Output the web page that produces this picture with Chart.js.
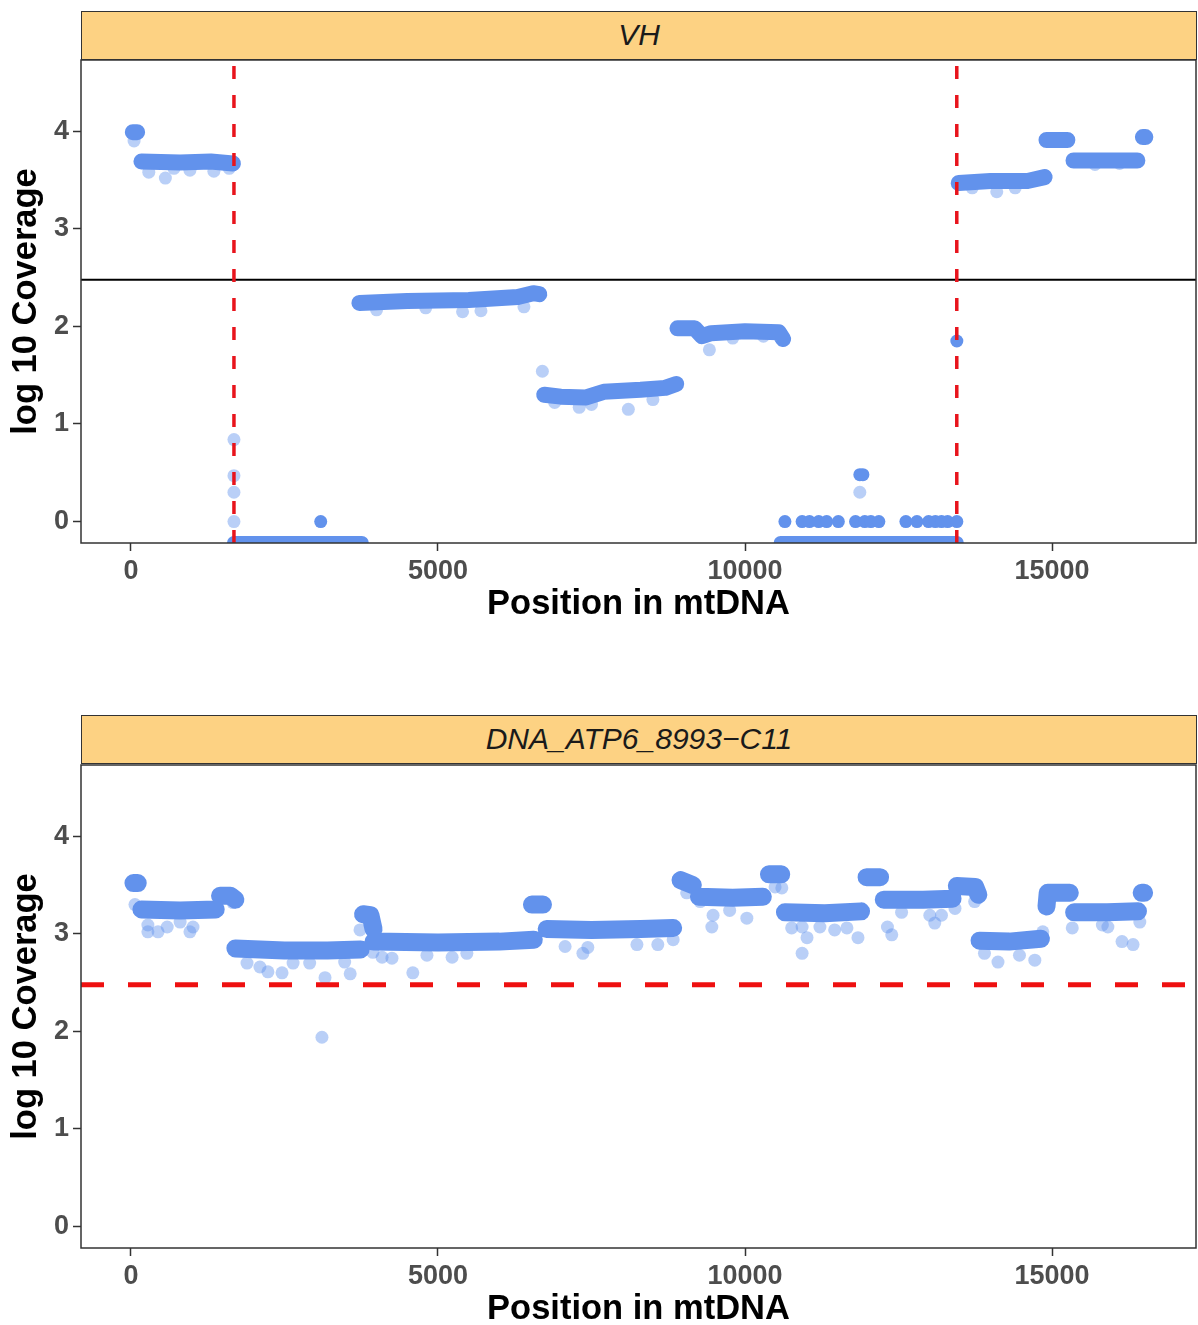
<!DOCTYPE html>
<html lang="en">
<head>
    <meta charset="UTF-8">
    <title>mtDNA coverage</title>
    <script src="https://cdn.jsdelivr.net/npm/chart.js"></script>
    <style>
        body {
            margin: 0;
            width: 1198px;
            height: 1325px;
            overflow: hidden;
            background: #ffffff;
            font-family: "Liberation Sans", Arial, sans-serif;
            position: relative;
        }
        .strip {
            position: absolute;
            left: 81px;
            width: 1116px;
            height: 49px;
            box-sizing: border-box;
            border: 1.5px solid #333333;
            background: #FDD283;
            color: #1A1A1A;
            font-style: italic;
            font-size: 30px;
            line-height: 46px;
            text-align: center;
        }
        canvas {
            position: absolute;
            left: 0;
        }
    </style>
</head>
<body>
    <div class="strip" style="top: 11px;">VH</div>
    <canvas id="vhChart" width="1198" height="571" style="top: 59px;"></canvas>

    <div class="strip" style="top: 715px;">DNA_ATP6_8993−C11</div>
    <canvas id="c11Chart" width="1198" height="571" style="top: 764px;"></canvas>

    <script>
        // axes
        const POSITION_TICKS = [0, 5000, 10000, 15000];
        const COVERAGE_TICKS = [0, 1, 2, 3, 4];
        const POSITION_MIN = -814, POSITION_MAX = 17345;
        const COVERAGE_MIN = -0.22, COVERAGE_MAX = 4.73;
        const COVERAGE_THRESHOLD = 2.477; // log10(300)

        // VH: dense runs of points (null = break between runs)
        const vhBandPos = [30, 100, null, 170, 800, 1300, 1660, null,
            3720, 4500, 5500, 6300, 6550, 6650, null,
            6730, 7000, 7400, 7700, 8300, 8700, 8880, null,
            8900, 9180, 9300, 9450, 10000, 10550, 10620, null,
            13480, 14000, 14600, 14880, null,
            14910, 15250, null,
            15350, 16390, null,
            16480, 16520];
        const vhBandCov = [3.99, 3.99, null, 3.69, 3.68, 3.69, 3.67, null,
            2.24, 2.26, 2.27, 2.30, 2.34, 2.33, null,
            1.30, 1.28, 1.27, 1.33, 1.35, 1.37, 1.41, null,
            1.98, 1.98, 1.90, 1.93, 1.95, 1.94, 1.87, null,
            3.47, 3.49, 3.49, 3.53, null,
            3.91, 3.91, null,
            3.70, 3.70, null,
            3.94, 3.94];
        // VH: sparse faint points
        const vhLightPos = [50, 290, 560, 700, 960, 1350, 1600,
            1677, 1677, 1677, 1677,
            4000, 4800, 5400, 5700, 6400, 6700,
            6900, 7300, 7500, 8100, 8500,
            9420, 9800, 10300, 11870,
            13700, 14100, 14400, 15700, 16100];
        const vhLightCov = [3.90, 3.58, 3.52, 3.62, 3.60, 3.59, 3.62,
            0.84, 0.47, 0.30, 0.00,
            2.17, 2.19, 2.15, 2.16, 2.20, 1.54,
            1.22, 1.17, 1.20, 1.15, 1.25,
            1.76, 1.88, 1.90, 0.30,
            3.42, 3.38, 3.42, 3.66, 3.67];
        // VH: single solid points
        const vhDotPos = [3090, 11870, 11920, 13450,
            10650, 10930, 11050, 11200, 11330, 11520, 11800, 11950, 12050, 12180,
            12620, 12800, 12990, 13100, 13200, 13300, 13450];
        const vhDotCov = [0.00, 0.48, 0.48, 1.85,
            0, 0, 0, 0, 0, 0, 0, 0, 0, 0,
            0, 0, 0, 0, 0, 0, 0];
        // VH: zero coverage (log10 = -Inf), start/end pairs
        const vhZeroPos = [1677, 3760, null, 10580, 13450];
        const vhCutPos = [1677, 13449];

        // DNA_ATP6_8993-C11
        const c11BandPos = [40, 110, null, 170, 800, 1380, null,
            1450, 1620, 1700, null,
            1700, 2500, 3200, 3740, null,
            3780, 3900, 3950, null,
            3950, 5000, 6000, 6560, null,
            6530, 6710, null,
            6770, 7500, 8300, 8830, null,
            8950, 9150, null,
            9250, 9800, 10290, null,
            10390, 10590, null,
            10650, 11300, 11890, null,
            11980, 12200, null,
            12260, 12900, 13380, null,
            13450, 13750, 13800, null,
            13820, 14300, 14820, null,
            14910, 14930, 15290, null,
            15360, 15900, 16400, null,
            16460, 16500];
        const c11BandCov = [3.52, 3.52, null, 3.25, 3.24, 3.25, null,
            3.39, 3.39, 3.35, null,
            2.85, 2.83, 2.83, 2.84, null,
            3.20, 3.19, 3.05, null,
            2.92, 2.91, 2.92, 2.94, null,
            3.30, 3.30, null,
            3.05, 3.04, 3.05, 3.06, null,
            3.55, 3.50, null,
            3.38, 3.37, 3.38, null,
            3.61, 3.61, null,
            3.22, 3.21, 3.23, null,
            3.58, 3.58, null,
            3.35, 3.35, 3.36, null,
            3.49, 3.48, 3.40, null,
            2.93, 2.92, 2.95, null,
            3.28, 3.42, 3.42, null,
            3.22, 3.22, 3.23, null,
            3.42, 3.42];
        const c11LightPos = [65, 275, 275, 440, 590, 800, 960, 1010, 1660,
            1890, 2100, 2230, 2460, 2640, 2910, 3160, 3480, 3570, 3110, 3730,
            3940, 4090, 4250, 4590, 4820, 5230, 5470,
            7070, 7360, 7440, 8240, 8580, 8830, 9050,
            9270, 9480, 9460, 9750, 10030, 10490, 10600,
            10760, 10930, 11010, 10930, 11220, 11460, 11660, 11840, 12320, 12390,
            12550, 13010, 13090, 13200, 13420, 13740,
            14120, 13900, 14470, 14720, 14850,
            15330, 15820, 15910, 16140, 16320, 16430];
        const c11LightCov = [3.30, 3.09, 3.02, 3.02, 3.07, 3.12, 3.02, 3.07, 3.32,
            2.70, 2.66, 2.61, 2.60, 2.70, 2.70, 2.55, 2.71, 2.59, 1.94, 3.04,
            2.81, 2.76, 2.75, 2.60, 2.78, 2.76, 2.80,
            2.87, 2.80, 2.86, 2.89, 2.89, 2.94, 3.42,
            3.33, 3.19, 3.07, 3.24, 3.16, 3.48, 3.47,
            3.06, 3.07, 2.96, 2.80, 3.07, 3.04, 3.06, 2.96, 3.07, 2.99,
            3.22, 3.19, 3.11, 3.19, 3.26, 3.33,
            2.71, 2.80, 2.78, 2.73, 3.02,
            3.06, 3.09, 3.07, 2.92, 2.89, 3.12];

        const BLUE = 'rgb(98, 146, 236)';
        const BLUE_LIGHT = 'rgba(100, 149, 237, 0.45)';
        const FONT = '"Liberation Sans", Arial, sans-serif';

        function pts(xs, ys) {
            return xs.map((x, i) => ({ x: x, y: x === null ? null : ys[i] }));
        }

        function bandSet(xs, ys, width, order) {
            return {
                data: pts(xs, ys), showLine: true, pointRadius: 0,
                borderColor: BLUE, borderWidth: width, borderCapStyle: 'round',
                borderJoinStyle: 'round', spanGaps: false, clip: 0, order: order
            };
        }

        function dotSet(xs, ys, color, order) {
            return {
                data: pts(xs, ys), pointRadius: 6.5, borderWidth: 0,
                backgroundColor: color, order: order
            };
        }

        const panelBorder = {
            id: 'panelBorder',
            afterDatasetsDraw(chart) {
                const { ctx, chartArea: a } = chart;
                ctx.save();
                ctx.strokeStyle = '#333333';
                ctx.lineWidth = 1.5;
                ctx.strokeRect(a.left, a.top, a.right - a.left, a.bottom - a.top);
                ctx.restore();
            }
        };

        function noPad(s) {
            s.paddingTop = 0; s.paddingBottom = 0; s.paddingLeft = 0; s.paddingRight = 0;
        }

        function makePanel(id, datasets) {
            return new Chart(document.getElementById(id), {
                type: 'scatter',
                data: { datasets: datasets },
                options: {
                    responsive: false,
                    animation: false,
                    events: [],
                    layout: { autoPadding: false, padding: { top: 1, right: 2, left: 0, bottom: 0 } },
                    plugins: { legend: { display: false }, tooltip: { enabled: false } },
                    scales: {
                        x: {
                            type: 'linear', min: POSITION_MIN, max: POSITION_MAX,
                            afterBuildTicks: s => { s.ticks = POSITION_TICKS.map(v => ({ value: v })); },
                            afterFit: s => { s.height = 87; noPad(s); },
                            grid: { drawOnChartArea: false, drawTicks: true, tickLength: 8, tickColor: '#333333', tickWidth: 1.5 },
                            border: { display: false },
                            ticks: { color: '#4D4D4D', padding: 4, maxRotation: 0, callback: v => String(v),
                                font: { family: FONT, size: 27, weight: 'bold' } },
                            title: { display: true, text: 'Position in mtDNA', color: '#000000', padding: { top: 0, bottom: 5 },
                                font: { family: FONT, size: 34.5, weight: 'bold' } }
                        },
                        y: {
                            type: 'linear', min: COVERAGE_MIN, max: COVERAGE_MAX,
                            afterBuildTicks: s => { s.ticks = COVERAGE_TICKS.map(v => ({ value: v })); },
                            afterFit: s => { s.width = 81; noPad(s); },
                            grid: { drawOnChartArea: false, drawTicks: true, tickLength: 8, tickColor: '#333333', tickWidth: 1.5 },
                            border: { display: false },
                            ticks: { color: '#4D4D4D', padding: 4, callback: v => String(v),
                                font: { family: FONT, size: 27, weight: 'bold' } },
                            title: { display: true, text: 'log 10 Coverage', color: '#000000', padding: { top: 6, bottom: 0 },
                                font: { family: FONT, size: 34.5, weight: 'bold' } }
                        }
                    }
                },
                plugins: [panelBorder]
            });
        }

        // VH panel
        makePanel('vhChart', [
            dotSet(vhLightPos, vhLightCov, BLUE_LIGHT, 4),
            bandSet(vhBandPos, vhBandCov, 16, 3),
            dotSet(vhDotPos, vhDotCov, BLUE, 2),
            {
                data: vhZeroPos.map(x => ({ x: x, y: x === null ? null : COVERAGE_MIN })),
                showLine: true, pointRadius: 0, borderColor: BLUE, borderWidth: 14,
                borderCapStyle: 'round', spanGaps: false, clip: 0, order: 3
            },
            {
                data: [{ x: POSITION_MIN, y: COVERAGE_THRESHOLD }, { x: POSITION_MAX, y: COVERAGE_THRESHOLD }],
                showLine: true, pointRadius: 0, borderColor: '#000000', borderWidth: 2, clip: 0, order: 1
            },
            ...vhCutPos.map(x => ({
                data: [{ x: x, y: COVERAGE_MIN }, { x: x, y: COVERAGE_MAX }],
                showLine: true, pointRadius: 0, borderColor: '#E8141C', borderWidth: 3.5,
                borderDash: [13, 16], clip: 0, order: 0
            }))
        ]);

        // DNA_ATP6_8993-C11 panel
        makePanel('c11Chart', [
            dotSet(c11LightPos, c11LightCov, BLUE_LIGHT, 4),
            bandSet(c11BandPos, c11BandCov, 18, 3),
            {
                data: [{ x: POSITION_MIN, y: COVERAGE_THRESHOLD }, { x: POSITION_MAX, y: COVERAGE_THRESHOLD }],
                showLine: true, pointRadius: 0, borderColor: '#EE1010', borderWidth: 5,
                borderDash: [23, 24], clip: 0, order: 0
            }
        ]);
    </script>
</body>
</html>
